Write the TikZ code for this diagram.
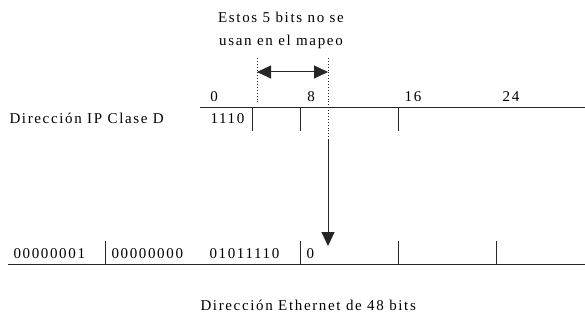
\documentclass[tikz,border=0pt]{standalone}
\usepackage{fontspec}
\setmainfont{Liberation Serif}[LetterSpace=11]
\usetikzlibrary{arrows.meta}
\begin{document}
\begin{tikzpicture}[x=1pt,y=-1pt, line width=1pt,
  lbl/.style={inner sep=0pt, font=\fontsize{15}{17}\selectfont},
  rule/.style={draw=black!85},
  guide/.style={draw=black!85, dotted, line width=0.9pt},
  bigtip/.style={-{Triangle[length=14pt,width=13pt]}},
  twotip/.style={{Triangle[length=14pt,width=13pt]}-{Triangle[length=14pt,width=13pt]}}]
\path[use as bounding box] (0,0) rectangle (585,320);

% texts
\node[lbl, anchor=base] (t1) at (281,23) {Estos 5 bits no se};
\node[lbl, anchor=base] (t2) at (281,46) {usan en el mapeo};
\node[lbl, anchor=base] (n0) at (214,102) {0};
\node[lbl, anchor=base] (n8) at (311,102) {8};
\node[lbl, anchor=base] (n16) at (413,102) {16};
\node[lbl, anchor=base] (n24) at (511,102) {24};
\node[lbl, anchor=base west] (ip) at (9,124) {Dirección IP Clase D};
\node[lbl, anchor=base west] (c1110) at (210,124) {1110};
\node[lbl, anchor=base west] (e1) at (13,258) {00000001};
\node[lbl, anchor=base west] (e2) at (111,258) {00000000};
\node[lbl, anchor=base west] (e3) at (209,258) {01011110};
\node[lbl, anchor=base west] (e4) at (306,258) {0};
\node[lbl, anchor=base west] (eth) at (200,310) {Dirección Ethernet de 48 bits};

% top register
\coordinate (TL) at (200,108); \coordinate (TR) at (585,108);
\draw[rule] (TL) -- (TR);
\foreach \x in {252,300,398} \draw[rule] (\x,108) -- (\x,131);

% bottom register
\coordinate (BL) at (8,264); \coordinate (BR) at (585,264);
\draw[rule] (BL) -- (BR);
\foreach \x in {105,300,398,496} \draw[rule] (\x,264) -- (\x,241);

% guides
\coordinate (g1t) at (257,58); \coordinate (g1b) at (257,103);
\coordinate (g2t) at (328,58); \coordinate (g2m) at (328,140);
\coordinate (g2b) at (328,246);
\draw[guide] (g1t) -- (g1b);
\draw[guide] (g2t) -- (g2m);
\draw[rule, bigtip] (g2m) -- (g2b);

% double arrow
\coordinate (a1) at (257,72); \coordinate (a2) at (328,72);
\draw[rule, twotip] (a1) -- (a2);
\end{tikzpicture}
\end{document}
